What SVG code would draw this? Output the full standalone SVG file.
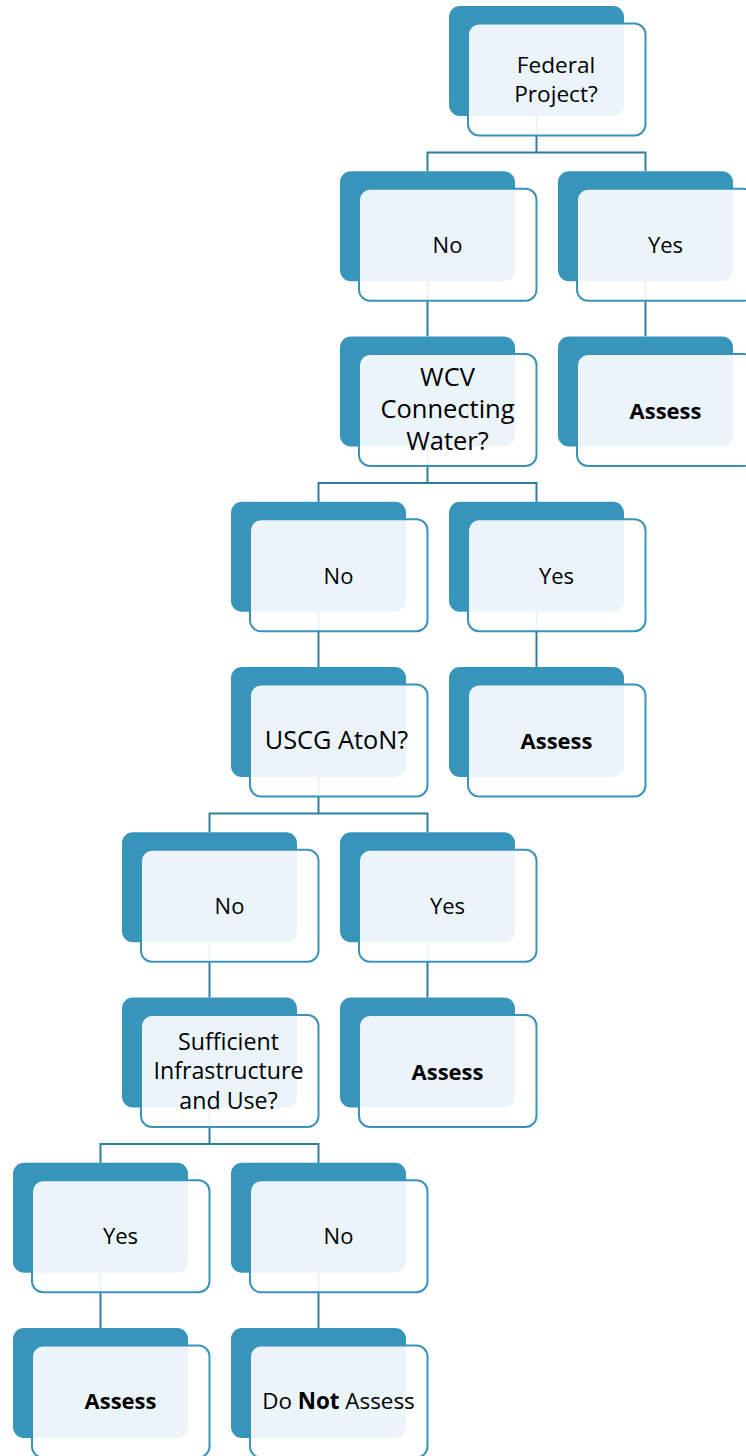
<svg xmlns="http://www.w3.org/2000/svg" width="746" height="1456" viewBox="0 0 746 1456">
<style>
.back{fill:#3795BC;}
.front{fill:#FFFFFF;fill-opacity:0.9;stroke:#3A94BA;stroke-width:2;}
.conn{fill:none;stroke:#2E7E9F;stroke-width:2;}
text{font-family:"Open Sans","Noto Sans","DejaVu Sans",sans-serif;font-size:22px;fill:#000;text-anchor:middle;}
.b{font-weight:bold;}
</style>
<rect width="746" height="1456" fill="#FFFFFF"/>
<g id="connectors" class="conn">
<path d="M536.5,116 V152.5 M427.5,171.25 V152.5 H645.5 V171.25"/>
<path d="M427.5,281.25 V336.5"/>
<path d="M645.5,281.25 V336.5"/>
<path d="M427.5,446.5 V483 M318.5,501.75 V483 H536.5 V501.75"/>
<path d="M318.5,611.75 V667"/>
<path d="M536.5,611.75 V667"/>
<path d="M318.5,777 V813.5 M209.5,832.25 V813.5 H427.5 V832.25"/>
<path d="M209.5,942.25 V997.5"/>
<path d="M427.5,942.25 V997.5"/>
<path d="M209.5,1107.5 V1144 M100.5,1162.75 V1144 H318.5 V1162.75"/>
<path d="M100.5,1272.75 V1328"/>
<path d="M318.5,1272.75 V1328"/>
</g>
<g id="n1" transform="translate(449,6)">
<rect class="back" width="175" height="110" rx="11"/>
<rect class="front" x="19" y="17.5" width="177.5" height="112" rx="11"/>
<text style="font-size:22.6px"><tspan x="107" y="66.5">Federal</tspan><tspan x="107" y="95.5">Project?</tspan></text>
</g>
<g id="n2" transform="translate(340,171.25)">
<rect class="back" width="175" height="110" rx="11"/>
<rect class="front" x="19" y="17.5" width="177.5" height="112" rx="11"/>
<text x="107.5" y="82">No</text>
</g>
<g id="n3" transform="translate(558,171.25)">
<rect class="back" width="175" height="110" rx="11"/>
<rect class="front" x="19" y="17.5" width="177.5" height="112" rx="11"/>
<text x="107.5" y="82">Yes</text>
</g>
<g id="n4" transform="translate(340,336.5)">
<rect class="back" width="175" height="110" rx="11"/>
<rect class="front" x="19" y="17.5" width="177.5" height="112" rx="11"/>
<text style="font-size:25.5px"><tspan x="107.5" y="49.5">WCV</tspan><tspan x="107.5" y="81.5">Connecting</tspan><tspan x="107.5" y="113.5">Water?</tspan></text>
</g>
<g id="n5" transform="translate(558,336.5)">
<rect class="back" width="175" height="110" rx="11"/>
<rect class="front" x="19" y="17.5" width="177.5" height="112" rx="11"/>
<text class="b" x="107.5" y="82">Assess</text>
</g>
<g id="n6" transform="translate(231,501.75)">
<rect class="back" width="175" height="110" rx="11"/>
<rect class="front" x="19" y="17.5" width="177.5" height="112" rx="11"/>
<text x="107.5" y="82">No</text>
</g>
<g id="n7" transform="translate(449,501.75)">
<rect class="back" width="175" height="110" rx="11"/>
<rect class="front" x="19" y="17.5" width="177.5" height="112" rx="11"/>
<text x="107.5" y="82">Yes</text>
</g>
<g id="n8" transform="translate(231,667)">
<rect class="back" width="175" height="110" rx="11"/>
<rect class="front" x="19" y="17.5" width="177.5" height="112" rx="11"/>
<text x="105.5" y="82" style="font-size:25.3px">USCG AtoN?</text>
</g>
<g id="n9" transform="translate(449,667)">
<rect class="back" width="175" height="110" rx="11"/>
<rect class="front" x="19" y="17.5" width="177.5" height="112" rx="11"/>
<text class="b" x="107.5" y="82">Assess</text>
</g>
<g id="n10" transform="translate(122,832.25)">
<rect class="back" width="175" height="110" rx="11"/>
<rect class="front" x="19" y="17.5" width="177.5" height="112" rx="11"/>
<text x="107.5" y="82">No</text>
</g>
<g id="n11" transform="translate(340,832.25)">
<rect class="back" width="175" height="110" rx="11"/>
<rect class="front" x="19" y="17.5" width="177.5" height="112" rx="11"/>
<text x="107.5" y="82">Yes</text>
</g>
<g id="n12" transform="translate(122,997.5)">
<rect class="back" width="175" height="110" rx="11"/>
<rect class="front" x="19" y="17.5" width="177.5" height="112" rx="11"/>
<text style="font-size:23.2px"><tspan x="106.5" y="52">Sufficient</tspan><tspan x="106.5" y="81.5">Infrastructure</tspan><tspan x="106.5" y="111">and Use?</tspan></text>
</g>
<g id="n13" transform="translate(340,997.5)">
<rect class="back" width="175" height="110" rx="11"/>
<rect class="front" x="19" y="17.5" width="177.5" height="112" rx="11"/>
<text class="b" x="107.5" y="82">Assess</text>
</g>
<g id="n14" transform="translate(13,1162.75)">
<rect class="back" width="175" height="110" rx="11"/>
<rect class="front" x="19" y="17.5" width="177.5" height="112" rx="11"/>
<text x="107.5" y="81.5">Yes</text>
</g>
<g id="n15" transform="translate(231,1162.75)">
<rect class="back" width="175" height="110" rx="11"/>
<rect class="front" x="19" y="17.5" width="177.5" height="112" rx="11"/>
<text x="107.5" y="81.5">No</text>
</g>
<g id="n16" transform="translate(13,1328)">
<rect class="back" width="175" height="110" rx="11"/>
<rect class="front" x="19" y="17.5" width="177.5" height="112" rx="11"/>
<text class="b" x="107.5" y="81">Assess</text>
</g>
<g id="n17" transform="translate(231,1328)">
<rect class="back" width="175" height="110" rx="11"/>
<rect class="front" x="19" y="17.5" width="177.5" height="112" rx="11"/>
<text x="107.5" y="81" style="font-size:22.4px">Do <tspan class="b">Not</tspan> Assess</text>
</g>
</svg>
